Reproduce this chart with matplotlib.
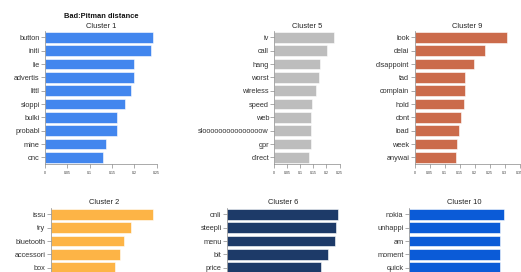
import matplotlib
matplotlib.use("Agg")
import matplotlib.pyplot as plt
from matplotlib.ticker import MultipleLocator, FuncFormatter

plt.rcParams['font.family'] = ['Liberation Sans', 'DejaVu Sans']

W, H = 521, 272
DPI = 100

main_title = "Bad:Pitman distance"

c1_words = ["button", "initi", "lie", "advertis", "littl", "sloppi", "bulki", "probabl", "mine", "onc"]
c1_vals = [0.2425, 0.238, 0.2005, 0.2005, 0.192, 0.1795, 0.1615, 0.1606, 0.137, 0.131]

c5_words = ["iv", "call", "hang", "worst", "wireless", "speed", "web", "slooooooooooooooow", "gpr", "direct"]
c5_vals = [0.227, 0.201, 0.177, 0.171, 0.159, 0.144, 0.141, 0.141, 0.141, 0.132]

c9_words = ["look", "delai", "disappoint", "tad", "complain", "hold", "dont", "load", "week", "anywai"]
c9_vals = [0.308, 0.2345, 0.197, 0.1665, 0.1665, 0.164, 0.1546, 0.149, 0.141, 0.138]

c2_words = ["issu", "try", "bluetooth", "accessori", "box"]
c2_vals = [0.2405, 0.189, 0.172, 0.162, 0.151]

c6_words = ["onli", "steepli", "menu", "bit", "price"]
c6_vals = [0.294, 0.290, 0.2876, 0.268, 0.249]

c10_words = ["nokia", "unhappi", "am", "moment", "quick"]
c10_vals = [0.301, 0.286, 0.286, 0.286, 0.286]

panels = [
    # title, words, values, color, x0, x1, top, xmax
    ("Cluster 1", c1_words, c1_vals, "#4286ee", 45.0, 156.5, 30.7, 0.25),
    ("Cluster 5", c5_words, c5_vals, "#bdbdbd", 274.3, 339.5, 30.7, 0.25),
    ("Cluster 9", c9_words, c9_vals, "#cb6b4b", 414.7, 519.7, 30.7, 0.35),
    ("Cluster 2", c2_words, c2_vals, "#fdb446", 50.7, 157.0, 207.7, 0.25),
    ("Cluster 6", c6_words, c6_vals, "#1d3a68", 226.7, 340.0, 207.7, 0.30),
    ("Cluster 10", c10_words, c10_vals, "#0b5bd7", 408.7, 520.0, 207.7, 0.35),
]

BAND = 13.33
NBANDS = 10

fig = plt.figure(figsize=(W / DPI, H / DPI), dpi=DPI)
fig.patch.set_facecolor("white")

def fmt(v, pos):
    s = ("%.2f" % v).rstrip("0").rstrip(".")
    return s

for title, words, vals, color, x0, x1, top, xmax in panels:
    h = BAND * NBANDS
    ax = fig.add_axes([x0 / W, 1 - (top + h) / H, (x1 - x0) / W, h / H])
    ypos = list(range(len(words)))
    ax.barh(ypos, vals, height=0.8, color=color, edgecolor="#ffffff", linewidth=0.4, alpha=1.0)
    ax.set_ylim(NBANDS - 0.5, -0.5)
    ax.set_xlim(0, xmax)
    ax.set_yticks(ypos)
    ax.set_yticklabels(words, fontsize=5.3, color="#333333")
    ax.xaxis.set_major_locator(MultipleLocator(0.05))
    ax.xaxis.set_major_formatter(FuncFormatter(fmt))
    ax.tick_params(axis="x", labelsize=2.5, length=2.8, width=0.5, color="#888888",
                   labelcolor="#333333", pad=2.0)
    ax.tick_params(axis="y", length=2.8, width=0.5, color="#888888", pad=1.0)
    for s in ("top", "right"):
        ax.spines[s].set_visible(False)
    for s in ("left", "bottom"):
        ax.spines[s].set_color("#888888")
        ax.spines[s].set_linewidth(0.5)
    ax.set_facecolor("none")
    cx = (x0 + x1) / 2
    fig.text(cx / W, 1 - (top - 4.7) / H, title, ha="center", va="center",
             fontsize=5.4, color="#222222")

fig.text(101 / W, 1 - 16.0 / H, main_title, ha="center", va="center",
         fontsize=5.4, fontweight="bold", color="#111111")

fig.savefig("out.png", dpi=DPI)
